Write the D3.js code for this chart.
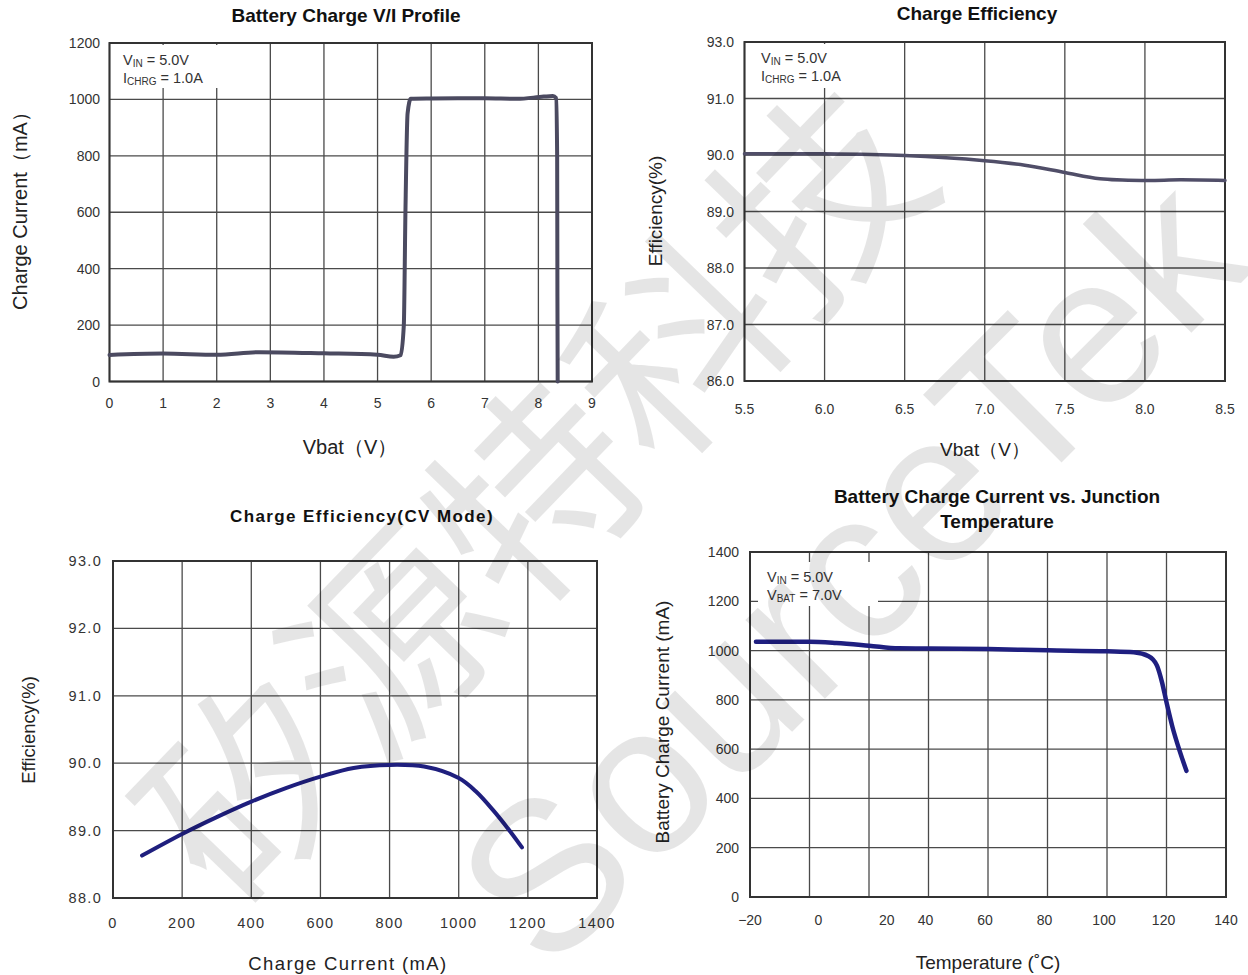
<!DOCTYPE html>
<html>
<head>
<meta charset="utf-8">
<script src="https://cdn.jsdelivr.net/npm/d3@7/dist/d3.min.js"></script>
<style>
  body { margin: 0; background: #fff; }
  svg { display: block; font-family: "Liberation Sans", Arial, sans-serif; }
</style>
</head>
<body>
<svg id="chart" width="1248" height="975"></svg>
<script>
// ---- data ----
var viVbat    = [0, 1, 2, 2.8, 4, 5, 5.3, 5.43, 5.49, 5.52, 5.56, 5.62, 6, 7, 7.6, 8.1, 8.27, 8.33, 8.35, 8.355, 8.36];
var viCurrent = [94, 99, 95, 104, 100, 95, 88, 93, 200, 600, 950, 1002, 1003, 1004, 1002, 1010, 1012, 1005, 800, 300, 0];
var viXTicks  = [0, 1, 2, 3, 4, 5, 6, 7, 8, 9];
var viYTicks  = [0, 200, 400, 600, 800, 1000, 1200];

var effVbat   = [5.5, 6.0, 6.5, 7.0, 7.25, 7.5, 7.72, 8.0, 8.22, 8.5];
var effValue  = [90.02, 90.02, 89.99, 89.9, 89.82, 89.69, 89.58, 89.55, 89.56, 89.55];
var effXTicks = [5.5, 6.0, 6.5, 7.0, 7.5, 8.0, 8.5];
var effYTicks = [86, 87, 88, 89, 90, 91, 93];

var cvCurrent = [84, 200, 300, 400, 500, 600, 696, 800, 900, 1000, 1050, 1100, 1150, 1183];
var cvEff     = [88.63, 88.95, 89.2, 89.43, 89.63, 89.8, 89.93, 89.975, 89.95, 89.78, 89.58, 89.3, 88.98, 88.75];
var cvXTicks  = [0, 200, 400, 600, 800, 1000, 1200, 1400];
var cvYTicks  = [88, 89, 90, 91, 92, 93];

var tempC     = [-18, 0, 9, 20, 30, 40, 60, 80, 100, 109, 114, 116.8, 118.5, 120, 122, 124.5, 126.7];
var tempI     = [1036, 1036, 1031, 1020, 1009, 1008, 1006, 1001, 997, 993, 977, 939, 871, 790, 690, 590, 512];
var tempXTicks = [-20, 0, 20, 40, 60, 80, 100, 120, 140];
var tempXLabelAt = [-20, 3, 26, 39, 59, 79, 99, 119, 140];   // labels sit off-grid in the original
var tempYTicks = [0, 200, 400, 600, 800, 1000, 1200, 1400];

var svg = d3.select("#chart");

function drawPanel(o) {
    var g = svg.append("g");
    var x = o.x, y = o.y;

    // grid
    g.selectAll(".vg").data(o.xTicks).enter().append("line")
        .attr("x1", function(d) { return x(d); }).attr("x2", function(d) { return x(d); })
        .attr("y1", y.range()[0]).attr("y2", y.range()[y.range().length - 1])
        .attr("stroke", "#4a4a4a").attr("stroke-width", 1.3);
    g.selectAll(".hg").data(o.yTicks).enter().append("line")
        .attr("y1", function(d) { return y(d); }).attr("y2", function(d) { return y(d); })
        .attr("x1", x.range()[0]).attr("x2", x.range()[1])
        .attr("stroke", "#4a4a4a").attr("stroke-width", 1.3);

    // box around plot
    var r = x.range(), ry = y.range();
    g.append("rect")
        .attr("x", r[0]).attr("y", ry[ry.length - 1])
        .attr("width", r[1] - r[0]).attr("height", ry[0] - ry[ry.length - 1])
        .attr("fill", "none").attr("stroke", "#333").attr("stroke-width", 2);

    // note box (hides grid under it)
    if (o.note) {
        g.append("rect").attr("x", o.note.box[0]).attr("y", o.note.box[1])
            .attr("width", o.note.box[2]).attr("height", o.note.box[3]).attr("fill", "#fff");
        o.note.lines.forEach(function(ln, i) {
            var t = g.append("text").attr("x", o.note.x).attr("y", o.note.y + i * 18)
                .attr("font-size", 14.5).attr("fill", "#333");
            t.append("tspan").text(ln[0]);
            t.append("tspan").attr("font-size", 10).attr("dy", 2).text(ln[1]);
            t.append("tspan").attr("dy", -2).text(ln[2]);
        });
    }

    // tick labels
    g.selectAll(".xl").data(o.xTicks).enter().append("text")
        .attr("x", function(d, i) { return x(o.xLabelAt ? o.xLabelAt[i] : d); })
        .attr("y", o.xLabelY)
        .attr("text-anchor", "middle")
        .attr("font-size", o.tickSize || 14)
        .attr("letter-spacing", o.tickSpacing || 0)
        .attr("fill", "#333")
        .text(o.xFmt);
    g.selectAll(".yl").data(o.yTicks).enter().append("text")
        .attr("x", o.yLabelX)
        .attr("y", function(d) { return y(d) + 5; })
        .attr("text-anchor", "end")
        .attr("font-size", o.tickSize || 14)
        .attr("letter-spacing", o.tickSpacing || 0)
        .attr("fill", "#333")
        .text(o.yFmt);

    // titles
    o.title.forEach(function(t, i) {
        g.append("text").attr("x", o.titleX).attr("y", o.titleY + i * 25)
            .attr("text-anchor", "middle").attr("font-weight", "bold")
            .attr("font-size", o.titleSize).attr("letter-spacing", o.titleSpacing || 0)
            .attr("fill", "#111").text(t);
    });
    g.append("text").attr("x", o.xTitleX).attr("y", o.xTitleY)
        .attr("text-anchor", "middle").attr("font-size", o.axisSize || 20)
        .attr("letter-spacing", o.xTitleSpacing || 0)
        .attr("fill", "#222").text(o.xTitle);
    g.append("text")
        .attr("transform", "translate(" + o.yTitleX + "," + o.yTitleY + ") rotate(-90)")
        .attr("text-anchor", "middle").attr("font-size", o.axisSize || 20)
        .attr("fill", "#222").text(o.yTitle);

    // curve
    var pts = o.xs.map(function(v, i) { return [v, o.ys[i]]; });
    g.append("path")
        .attr("d", d3.line().x(function(d) { return x(d[0]); }).y(function(d) { return y(d[1]); })
            .curve(o.curve || d3.curveMonotoneX)(pts))
        .attr("fill", "none").attr("stroke", o.color).attr("stroke-width", o.width || 4)
        .attr("stroke-linejoin", "round").attr("stroke-linecap", "round");
}

// Battery Charge V/I Profile
drawPanel({
    x: d3.scaleLinear().domain([0, 9]).range([109.5, 592]),
    y: d3.scaleLinear().domain([0, 1200]).range([381.5, 43]),
    xTicks: viXTicks, yTicks: viYTicks,
    xFmt: function(d) { return d; }, yFmt: function(d) { return d; },
    xLabelY: 408, yLabelX: 100,
    title: ["Battery Charge V/I Profile"], titleX: 346, titleY: 22, titleSize: 19,
    xTitle: "Vbat（V）", xTitleX: 350, xTitleY: 454,
    yTitle: "Charge Current（mA）", yTitleX: 27, yTitleY: 206,
    note: { box: [111, 45, 128, 43], x: 123, y: 65, lines: [["V", "IN", " = 5.0V"], ["I", "CHRG", " = 1.0A"]] },
    xs: viVbat, ys: viCurrent, color: "#4b4a60", width: 4
});

// Charge Efficiency
drawPanel({
    x: d3.scaleLinear().domain([5.5, 8.5]).range([744.5, 1225]),
    y: d3.scaleLinear().domain(effYTicks).range([381, 324.5, 268, 211.5, 155, 98.5, 42]),
    xTicks: effXTicks, yTicks: effYTicks,
    xFmt: d3.format(".1f"), yFmt: d3.format(".1f"),
    xLabelY: 414, yLabelX: 734,
    title: ["Charge Efficiency"], titleX: 977, titleY: 20, titleSize: 19,
    xTitle: "Vbat（V）", xTitleX: 985, xTitleY: 456,
    yTitle: "Efficiency(%)", yTitleX: 662, yTitleY: 211, axisSize: 19,
    note: { box: [746, 44, 126, 44], x: 761, y: 63, lines: [["V", "IN", " = 5.0V"], ["I", "CHRG", " = 1.0A"]] },
    xs: effVbat, ys: effValue, color: "#504e68", width: 3.5, curve: d3.curveCatmullRom
});

// Charge Efficiency (CV Mode)
drawPanel({
    x: d3.scaleLinear().domain([0, 1400]).range([113, 597]),
    y: d3.scaleLinear().domain([88, 93]).range([898, 561]),
    xTicks: cvXTicks, yTicks: cvYTicks,
    xFmt: function(d) { return d; }, yFmt: d3.format(".1f"),
    xLabelY: 928, yLabelX: 102, tickSpacing: 1.3, tickSize: 14.5,
    title: ["Charge Efficiency(CV Mode)"], titleX: 362, titleY: 522, titleSize: 17, titleSpacing: 1.4,
    xTitle: "Charge Current (mA)", xTitleX: 348, xTitleY: 970, xTitleSpacing: 1.4, axisSize: 18.5,
    yTitle: "Efficiency(%)", yTitleX: 35, yTitleY: 730,
    xs: cvCurrent, ys: cvEff, color: "#1f1f7e", width: 4, curve: d3.curveCatmullRom
});

// Battery Charge Current vs. Junction Temperature
drawPanel({
    x: d3.scaleLinear().domain([-20, 140]).range([750, 1226]),
    y: d3.scaleLinear().domain([0, 1400]).range([897, 552]),
    xTicks: tempXTicks, yTicks: tempYTicks, xLabelAt: tempXLabelAt,
    xFmt: function(d) { return d < 0 ? "\u2212" + (-d) : d; }, yFmt: function(d) { return d; },
    xLabelY: 925, yLabelX: 739,
    title: ["Battery Charge Current vs. Junction", "Temperature"], titleX: 997, titleY: 503, titleSize: 19,
    xTitle: "Temperature (\u02DAC)", xTitleX: 988, xTitleY: 969, axisSize: 19,
    yTitle: "Battery Charge Current (mA)", yTitleX: 669, yTitleY: 722,
    note: { box: [758, 562, 120, 44], x: 767, y: 582, lines: [["V", "IN", " = 5.0V"], ["V", "BAT", " = 7.0V"]] },
    xs: tempC, ys: tempI, color: "#1f1f80", width: 4.5
});

// faint diagonal watermark
svg.append("text")
    .attr("transform", "translate(525,485) rotate(-46)")
    .attr("text-anchor", "middle").attr("dominant-baseline", "central")
    .attr("font-family", "'Noto Sans CJK SC'").attr("font-size", 205)
    .attr("fill", "#000").attr("fill-opacity", 0.1)
    .text("矽源特科技");
svg.append("text")
    .attr("transform", "translate(850,570) rotate(-45)")
    .attr("text-anchor", "middle").attr("dominant-baseline", "central")
    .attr("font-size", 212)
    .attr("fill", "#000").attr("fill-opacity", 0.1)
    .text("SourceTek");
</script>
</body>
</html>
